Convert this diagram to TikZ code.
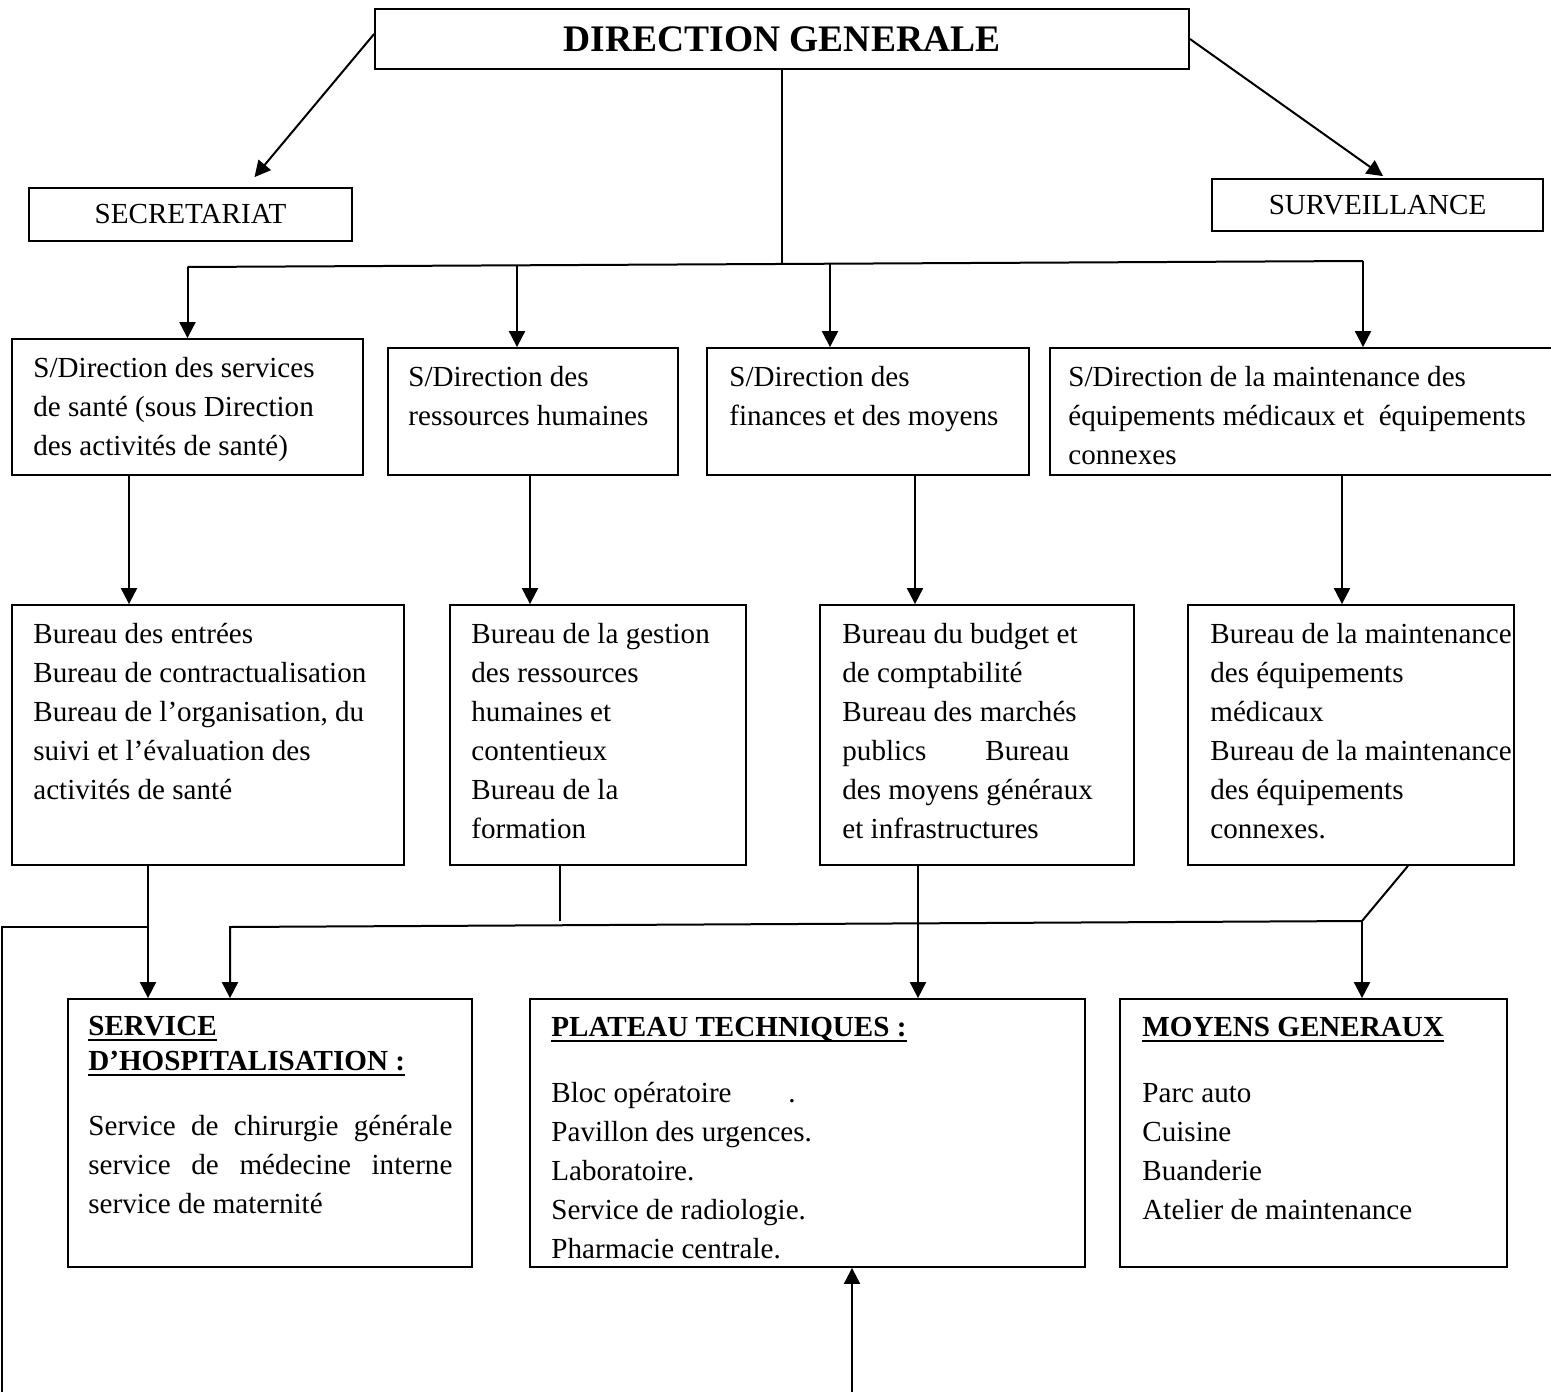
\documentclass[tikz,border=0pt]{standalone}
\usepackage{fontspec}
\setmainfont{Liberation Serif}
\usetikzlibrary{arrows.meta,fit,calc}
\newcommand\ulx[1]{\setbox0\hbox{#1}\rlap{\rule[-3pt]{\wd0}{1pt}}\box0}
\begin{document}
\begin{tikzpicture}[x=0.5pt,y=-0.5pt,
  bx/.style={draw,line width=0.9pt,inner sep=0pt,fit={#1}},
  cbx/.style={draw,line width=0.9pt,inner sep=0pt,font=\fontsize{14.55pt}{19.5pt}\selectfont},
  txt/.style={anchor=base west,inner sep=0pt,align=left,font=\fontsize{14.55pt}{19.5pt}\selectfont},
  hd/.style={anchor=base west,inner sep=0pt,align=left,font=\fontsize{14.55pt}{17.5pt}\selectfont\bfseries},
  con/.style={line width=1pt},
  arr/.style={con,-{Triangle[length=8pt,width=8pt]}}]
\useasboundingbox (0,0) rectangle (1551,1391);
% top boxes
\node[cbx,minimum width=407pt,minimum height=30pt,font=\fontsize{18.75pt}{20pt}\selectfont\bfseries] (dg) at (782,39) {DIRECTION GENERALE};
\node[cbx,minimum width=161.5pt,minimum height=26.5pt] (sec) at (190.5,214.5) {SECRETARIAT};
\node[cbx,minimum width=165.5pt,minimum height=26pt] (surv) at (1377.5,205) {SURVEILLANCE};
% row 1 (text nodes are placed at the baseline of their last line)
\node[bx={(12,339) (363,475)}] (b1) {};
\node[bx={(388,348) (678,475)}] (b2) {};
\node[bx={(707,348) (1029,475)}] (b3) {};
\node[bx={(1050,348) (1556,475)}] (b4) {};
\node[txt] (b1t) at (33,455) {S/Direction des services\\de santé (sous Direction\\des activités de santé)};
\node[txt] (b2t) at (408,425) {S/Direction des\\ressources humaines};
\node[txt] (b3t) at (729,425) {S/Direction des\\finances et des moyens};
\node[txt] (b4t) at (1068,464) {S/Direction de la maintenance des\\équipements médicaux et \ équipements\\connexes};
% row 2
\node[bx={(12,605) (404,865)}] (r1) {};
\node[bx={(450,605) (746,865)}] (r2) {};
\node[bx={(820,605) (1134,865)}] (r3) {};
\node[bx={(1188,605) (1514,865)}] (r4) {};
\node[txt] (r1t) at (33,799) {Bureau des entrées\\Bureau de contractualisation\\Bureau de l’organisation, du\\suivi et l’évaluation des\\activités de santé};
\node[txt] (r2t) at (471,838) {Bureau de la gestion\\des ressources\\humaines et\\contentieux\\Bureau de la\\formation};
\node[txt] (r3t) at (842,838) {Bureau du budget et\\de comptabilité\\Bureau des marchés\\\makebox[113.5pt][s]{publics Bureau}\\des moyens généraux\\et infrastructures};
\node[txt] (r4t) at (1210,838) {Bureau de la maintenance\\des équipements\\médicaux\\Bureau de la maintenance\\des équipements\\connexes.};
% row 3
\node[bx={(68,999) (472,1267)}] (sh) {};
\node[bx={(530,999) (1085,1267)}] (pt) {};
\node[bx={(1120,999) (1507,1267)}] (mg) {};
\node[hd] (sht) at (88,1070) {\ulx{SERVICE}\\\ulx{D’HOSPITALISATION :}};
\node[txt] (shb) at (88,1213) {\makebox[182pt][s]{Service de chirurgie générale}\\\makebox[182pt][s]{service de médecine interne}\\service de maternité};
\node[hd] (ptt) at (551,1036) {\ulx{PLATEAU TECHNIQUES :}};
\node[txt] (ptb) at (551,1258) {\makebox[118.5pt][l]{Bloc opératoire}.\\Pavillon des urgences.\\Laboratoire.\\Service de radiologie.\\Pharmacie centrale.};
\node[hd] (mgt) at (1142,1036) {\ulx{MOYENS GENERAUX}};
\node[txt] (mgb) at (1142,1219) {Parc auto\\Cuisine\\Buanderie\\Atelier de maintenance};
% connectors top
\draw[arr] ([yshift=2.5pt]dg.west) -- ([xshift=32pt,yshift=5pt]sec.north);
\draw[arr] (dg.east) -- ([xshift=2.75pt,yshift=1pt]surv.north);
\coordinate (hL) at (187.5,267);
\coordinate (hR) at (1363,261);
\coordinate (hM) at (782,264);
\coordinate (h2) at (517,265.3);
\coordinate (h3) at (830,263.6);
\draw[con] (dg.south) -- (hM);
\draw[con] (hL) -- (hR);
\draw[arr] (hL) -- (b1.north);
\draw[arr] (h2) -- (h2 |- b2.north);
\draw[arr] (h3) -- (h3 |- b3.north);
\draw[arr] (hR) -- (hR |- b4.north);
% row1 -> row2
\coordinate (v1) at ([xshift=-29.25pt]b1.south);
\coordinate (v2) at ([xshift=-1.5pt]b2.south);
\coordinate (v3) at ([xshift=23.5pt]b3.south);
\coordinate (v4) at ([xshift=19.5pt]b4.south);
\draw[arr] (v1) -- (v1 |- r1.north);
\draw[arr] (v2) -- (v2 |- r2.north);
\draw[arr] (v3) -- (v3 |- r3.north);
\draw[arr] (v4) -- (v4 |- r4.north);
% row2 -> row3
\coordinate (w1) at ([xshift=-30pt]r1.south);
\coordinate (w2) at ([xshift=-19pt]r2.south);
\coordinate (w3) at ([xshift=-29.5pt]r3.south);
\coordinate (w4) at ([xshift=28.5pt]r4.south);
\coordinate (jA) at (230,927);
\coordinate (jB) at (1362,921);
\coordinate (eL) at (2,927);
\coordinate (eB) at (2,1400);
\coordinate (eP) at (852,1400);
\draw[arr] (w1) -- (w1 |- sh.north);
\draw[con] (w1 |- jA) -- (eL) -- (eB);
\draw[arr] (jB) -- (jA) -- (jA |- sh.north);
\draw[con] (w2) -- (w2 |- jB);
\draw[arr] (w3) -- (w3 |- pt.north);
\draw[con] (w4) -- (jB);
\draw[arr] (jB) -- (jB |- mg.north);
\draw[arr] (eP) -- (eP |- pt.south);
\end{tikzpicture}
\end{document}
